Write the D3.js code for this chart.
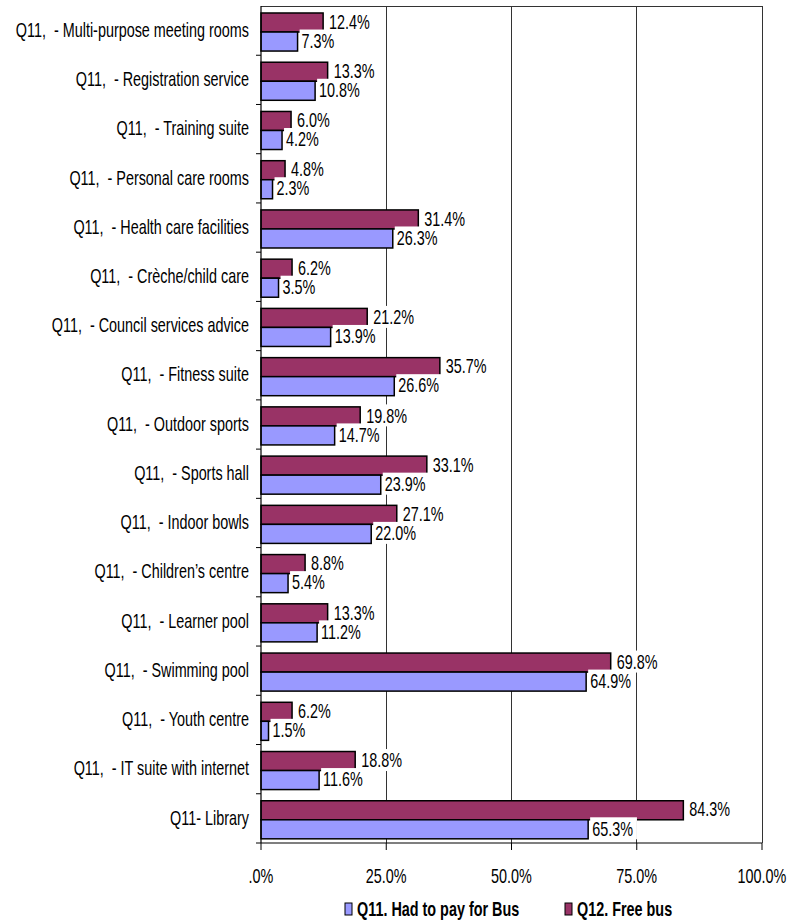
<!DOCTYPE html>
<html>
<head>
<meta charset="utf-8">
<script src="https://cdn.jsdelivr.net/npm/d3@7"></script>
<style>
  html, body { margin: 0; padding: 0; background: #fff; }
  svg { display: block; }
  text { font-family: "Liberation Sans", Arial, sans-serif; fill: #000; white-space: pre; }
</style>
</head>
<body>
<svg id="chart" width="789" height="920"></svg>
<script>
const categories = [
  "Q11,  - Multi-purpose meeting rooms",
  "Q11,  - Registration service",
  "Q11,  - Training suite",
  "Q11,  - Personal care rooms",
  "Q11,  - Health care facilities",
  "Q11,  - Crèche/child care",
  "Q11,  - Council services advice",
  "Q11,  - Fitness suite",
  "Q11,  - Outdoor sports",
  "Q11,  - Sports hall",
  "Q11,  - Indoor bowls",
  "Q11,  - Children\u2019s centre",
  "Q11,  - Learner pool",
  "Q11,  - Swimming pool",
  "Q11,  - Youth centre",
  "Q11,  - IT suite with internet",
  "Q11- Library"
];
const hadToPay = [7.3, 10.8, 4.2, 2.3, 26.3, 3.5, 13.9, 26.6, 14.7, 23.9, 22.0, 5.4, 11.2, 64.9, 1.5, 11.6, 65.3];
const freeBus  = [12.4, 13.3, 6.0, 4.8, 31.4, 6.2, 21.2, 35.7, 19.8, 33.1, 27.1, 8.8, 13.3, 69.8, 6.2, 18.8, 84.3];
const xTickValues = [0, 25, 50, 75, 100];
const xTickLabels = [".0%", "25.0%", "50.0%", "75.0%", "100.0%"];
const seriesNames = ["Q11. Had to pay for Bus", "Q12. Free bus"];

(function () {
const colPay = "#9999FF", colFree = "#993366";
const SX = 0.72;     // horizontal squeeze of the original text
const FS = 20;

const svg = d3.select("#chart");
const pLeft = 261, pRight = 762, pTop = 6, pBottom = 843;

const x = d3.scaleLinear().domain([0, 100]).range([pLeft, pRight]);
const y = d3.scaleBand().domain(categories).range([pTop, pBottom]);
const step = y.step();
const ys = d3.scaleBand().domain(["free", "pay"]).range([step * 0.142, step * 0.915]);

function sText(g, tx, ty, str, anchor, opts = {}) {
  return g.append("text")
    .attr("transform", `translate(${tx},${ty}) scale(${SX},1)`)
    .attr("text-anchor", anchor)
    .style("font-size", (opts.size || FS) + "px")
    .style("font-weight", opts.weight || "normal")
    .text(str);
}

// gridlines
svg.append("g").selectAll("line").data(xTickValues.slice(1))
  .join("line")
  .attr("x1", d => x(d)).attr("x2", d => x(d))
  .attr("y1", pTop).attr("y2", pBottom)
  .attr("stroke", "#333").attr("stroke-width", 1).attr("shape-rendering", "crispEdges");
svg.append("line").attr("x1", pLeft).attr("x2", pRight).attr("y1", pTop).attr("y2", pTop)
  .attr("stroke", "#333").attr("shape-rendering", "crispEdges");

// bars
const data = categories.map((c, i) => ({ c, pay: hadToPay[i], free: freeBus[i] }));
const groups = svg.append("g").selectAll("g").data(data).join("g")
  .attr("transform", d => `translate(0,${y(d.c)})`);

groups.append("rect")
  .attr("x", x(0)).attr("y", ys("free"))
  .attr("width", d => x(d.free) - x(0)).attr("height", ys.bandwidth())
  .attr("fill", colFree).attr("stroke", "#000").attr("stroke-width", 1.5);
groups.append("rect")
  .attr("x", x(0)).attr("y", ys("pay"))
  .attr("width", d => x(d.pay) - x(0)).attr("height", ys.bandwidth())
  .attr("fill", colPay).attr("stroke", "#000").attr("stroke-width", 1.5);

// value labels
function valueLabel(g, v, key, off) {
  const cy = ys(key) + ys.bandwidth() / 2 - 1;
  const bx = x(v);
  const box = g.append("rect").attr("fill", "#fff");
  const t = sText(g, bx + off, cy + 0.36 * FS, v.toFixed(1) + "%", "start");
  const w = t.node().getComputedTextLength() * SX;
  box.attr("x", bx + off - 2).attr("y", cy - 11).attr("width", w + 6).attr("height", 22);
}
groups.each(function (d) { valueLabel(d3.select(this), d.free, "free", 6); });
groups.each(function (d) { valueLabel(d3.select(this), d.pay, "pay", 4); });

// y axis
const yAx = svg.append("g");
yAx.append("line").attr("x1", pLeft).attr("x2", pLeft).attr("y1", pTop).attr("y2", pBottom)
  .attr("stroke", "#000").attr("stroke-width", 1.2);
const bounds = categories.map(c => y(c)).concat([pBottom]);
yAx.selectAll("line.tk").data(bounds.slice(1)).join("line").attr("class", "tk")
  .attr("x1", pLeft - 5).attr("x2", pLeft).attr("y1", d => d).attr("y2", d => d)
  .attr("stroke", "#000");
categories.forEach(c => {
  sText(yAx, 249, y(c) + step / 2 - 1 + 0.36 * FS, c, "end");
});

// x axis
const xAx = svg.append("g");
xAx.append("line").attr("x1", pLeft).attr("x2", pRight).attr("y1", pBottom).attr("y2", pBottom)
  .attr("stroke", "#000").attr("stroke-width", 1.2);
xAx.selectAll("line.tk").data(xTickValues).join("line").attr("class", "tk")
  .attr("x1", d => x(d)).attr("x2", d => x(d)).attr("y1", pBottom).attr("y2", pBottom + 7)
  .attr("stroke", "#000");
xTickValues.forEach((v, i) => {
  sText(xAx, x(v), 875.5 + 0.36 * FS, xTickLabels[i], "middle");
});

// legend
const leg = svg.append("g");
const legItems = [
  { name: seriesNames[0], color: colPay, sx: 345 },
  { name: seriesNames[1], color: colFree, sx: 565 }
];
legItems.forEach(it => {
  leg.append("rect").attr("x", it.sx).attr("y", 903).attr("width", 7).attr("height", 12)
    .attr("fill", it.color).attr("stroke", "#000").attr("stroke-width", 1);
  sText(leg, it.sx + 12, 909 + 0.36 * FS, it.name, "start", { weight: "bold" });
});
})();
</script>
</body>
</html>
